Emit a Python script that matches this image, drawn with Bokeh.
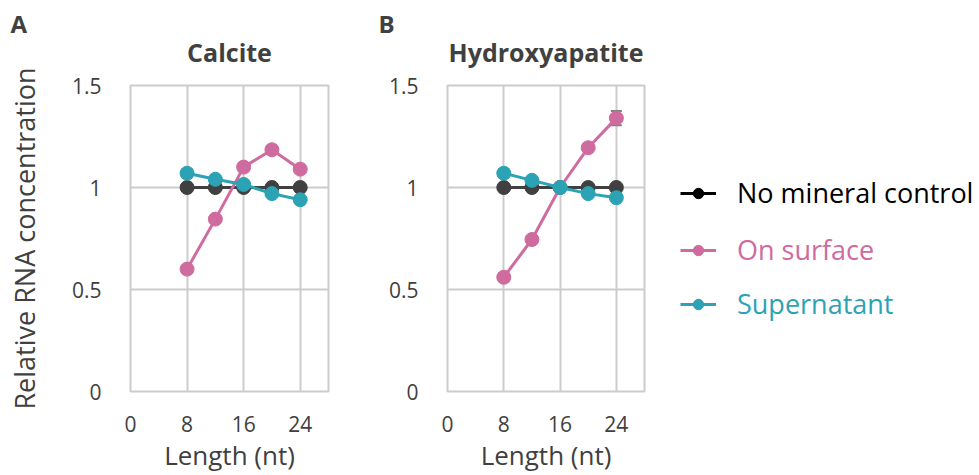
import numpy as np
from bokeh.plotting import figure
from bokeh.layouts import row
from bokeh.models import (ColumnDataSource, Whisker, TeeHead, FixedTicker, Range1d,
                          Title, Legend, LegendItem)
from bokeh.embed import file_html
from bokeh.resources import INLINE

# ---- data ----
lengths = [8, 12, 16, 20, 24]

calcite_control = [1.0, 1.0, 1.0, 1.0, 1.0]
calcite_surface = [0.60, 0.845, 1.10, 1.185, 1.09]
calcite_super = [1.07, 1.04, 1.015, 0.97, 0.94]
calcite_control_err = [0.0, 0.0, 0.0, 0.0, 0.0]
calcite_surface_err = [0.015, 0.01, 0.02, 0.02, 0.01]
calcite_super_err = [0.02, 0.01, 0.01, 0.01, 0.01]

hap_control = [1.0, 1.0, 1.0, 1.0, 1.0]
hap_surface = [0.56, 0.745, 1.0, 1.195, 1.34]
hap_super = [1.07, 1.035, 1.0, 0.97, 0.95]
hap_control_err = [0.0, 0.0, 0.0, 0.0, 0.0]
hap_surface_err = [0.02, 0.01, 0.01, 0.015, 0.035]
hap_super_err = [0.02, 0.01, 0.01, 0.01, 0.01]

series_names = ["No mineral control", "On surface", "Supernatant"]
series_colors = ["#404040", "#CF6B9E", "#2CA3B4"]
legend_colors = ["#000000", "#CF6B9E", "#2CA3B4"]

x_ticks = [0, 8, 16, 24]
y_ticks = [0, 0.5, 1, 1.5]
y_tick_labels = {0: "0", 0.5: "0.5", 1: "1", 1.5: "1.5"}

FONT = "Open Sans"
TXT = "#404040"
GRID = "#cccccc"


def make_panel(letter, title, series, errors, width, left, right, bottom, letter_offset, y_title):
    p = figure(width=width, height=475, output_backend="svg", toolbar_location=None,
               x_range=Range1d(0, 28), y_range=Range1d(0, 1.5),
               min_border_left=left, min_border_right=right,
               min_border_top=85, min_border_bottom=bottom)
    p.background_fill_color = "white"
    p.border_fill_color = "white"
    p.outline_line_color = GRID
    p.outline_line_width = 2

    # outer title: panel letter
    p.title.text = letter
    p.title.align = "left"
    p.title.offset = letter_offset
    p.title.text_font = FONT
    p.title.text_font_size = "24px"
    p.title.text_font_style = "bold"
    p.title.text_color = TXT
    p.title.standoff = -47

    # inner title: mineral name
    p.add_layout(Title(text=title, align="center", text_font=FONT, text_font_size="25px",
                       text_font_style="bold", text_color=TXT, standoff=33), "above")

    p.xaxis.ticker = FixedTicker(ticks=x_ticks)
    p.yaxis.ticker = FixedTicker(ticks=y_ticks)
    p.yaxis.major_label_overrides = y_tick_labels
    for ax in (p.xaxis, p.yaxis):
        ax.axis_line_color = None
        ax.major_tick_line_color = None
        ax.minor_tick_line_color = None
        ax.major_label_text_font = FONT
        ax.major_label_text_font_size = "21px"
        ax.major_label_text_color = TXT
        ax.axis_label_text_font = FONT
        ax.axis_label_text_font_style = "normal"
        ax.axis_label_text_color = TXT
    p.xaxis.axis_label_text_font_size = "26px"
    p.yaxis.axis_label_text_font_size = "27px"
    p.xaxis.major_label_standoff = 18
    p.yaxis.major_label_standoff = 23
    p.xaxis.axis_label = "Length (nt)"
    p.xaxis.axis_label_standoff = 2
    if y_title:
        p.yaxis.axis_label = y_title
        p.yaxis.axis_label_standoff = 26

    p.xgrid.ticker = FixedTicker(ticks=[8, 16, 24])
    p.ygrid.ticker = FixedTicker(ticks=[0.5, 1.0])
    for g in (p.xgrid, p.ygrid):
        g.grid_line_color = GRID
        g.grid_line_width = 2

    for vals, errs, color in zip(series, errors, series_colors):
        src = ColumnDataSource(dict(x=lengths, y=vals,
                                    lo=[v - e for v, e in zip(vals, errs)],
                                    hi=[v + e for v, e in zip(vals, errs)]))
        w = Whisker(source=src, base="x", lower="lo", upper="hi", line_color="#808080",
                    line_width=1.5, level="underlay",
                    upper_head=TeeHead(size=11, line_color="#808080", line_width=2),
                    lower_head=TeeHead(size=11, line_color="#808080", line_width=2))
        p.add_layout(w)
        p.line("x", "y", source=src, line_color=color, line_width=3)
        p.scatter("x", "y", source=src, size=14, fill_color=color, line_color=color)
    return p


pA = make_panel("A", "Calcite",
                [calcite_control, calcite_surface, calcite_super],
                [calcite_control_err, calcite_surface_err, calcite_super_err],
                width=340, left=130, right=12, bottom=80, letter_offset=-120,
                y_title="Relative RNA concentration")

pB = make_panel("B", "Hydroxyapatite",
                [hap_control, hap_surface, hap_super],
                [hap_control_err, hap_surface_err, hap_super_err],
                width=320, left=107, right=16, bottom=82, letter_offset=-69,
                y_title=None)

# ---- legend panel (legend keys only; stub renderers hold no visible data) ----
pL = figure(width=319, height=475, output_backend="svg", toolbar_location=None,
            x_axis_type=None, y_axis_type=None, min_border=0,
            x_range=Range1d(0, 1), y_range=Range1d(0, 1))
pL.outline_line_color = None
pL.grid.visible = False
pL.border_fill_color = "white"

legend_y = [180, 123, 69]
for name, tcolor, ly in zip(series_names, legend_colors, legend_y):
    stub = ColumnDataSource(dict(x=np.array([np.nan]), y=np.array([np.nan])))
    ln = pL.line("x", "y", source=stub, line_color=tcolor, line_width=3)
    sc = pL.scatter("x", "y", source=stub, fill_color=tcolor, line_color=tcolor)
    lg = Legend(items=[LegendItem(label=name, renderers=[ln, sc])],
                location=(20, ly), margin=0, padding=0, spacing=0,
                border_line_color=None, background_fill_alpha=0,
                glyph_width=36, glyph_height=26, label_height=30,
                label_standoff=21, label_text_font=FONT, label_text_font_size="27px",
                label_text_color=tcolor, label_text_baseline="middle")
    pL.add_layout(lg)

layout = row(pA, pB, pL)
open("out.html", "w").write(file_html(layout, INLINE))
